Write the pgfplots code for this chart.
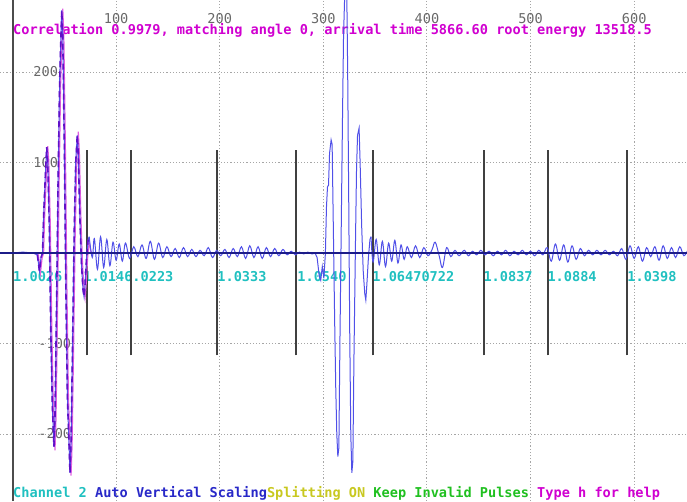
\documentclass[border=0pt]{standalone}
\usepackage{pgfplots}
\pgfplotsset{compat=1.18}
\usepackage{fontspec}
\newfontfamily\scr{DejaVu Sans Mono}
\definecolor{magT}{HTML}{D000D0}
\definecolor{cyanT}{HTML}{20C0C0}
\definecolor{blueT}{HTML}{2828C8}
\definecolor{yelT}{HTML}{C8C820}
\definecolor{grnT}{HTML}{20C020}
\definecolor{trBlue}{HTML}{5050E8}
\definecolor{trPurp}{HTML}{6010C8}
\definecolor{trMag}{HTML}{E060E0}
\definecolor{zeroC}{HTML}{1C1C88}
\definecolor{markC}{HTML}{404040}
\definecolor{tickC}{HTML}{686868}
\newcommand{\fs}{\fontsize{6.8}{8}\selectfont}
\begin{document}
\begin{tikzpicture}
\begin{axis}[
  width=343.5pt, height=250.5pt, scale only axis,
  xmin=-12.07, xmax=651, ymin=-274, ymax=279.6,
  axis line style={draw=none},
  xtick={100,200,...,600}, ytick={-200,-100,100,200},
  xticklabels={}, yticklabels={},
  major tick length=0pt,
  grid=major,
  major grid style={dash pattern=on 0.6pt off 1pt, draw=black!35, line width=0.5pt},
  extra x ticks={0}, extra x tick labels={},
  extra x tick style={grid=major, major grid style={solid, draw=black!70, line width=1pt}},
  unbounded coords=jump,
  clip=true,
]
% tick labels
\begin{scope}[every node/.style={inner sep=0pt, font=\scr\fs, text=tickC}]
\node at (axis cs:100,259.6) {100};
\node at (axis cs:200,259.6) {200};
\node at (axis cs:300,259.6) {300};
\node at (axis cs:400,259.6) {400};
\node at (axis cs:500,259.6) {500};
\node at (axis cs:600,259.6) {600};
\node[anchor=west] at (axis cs:19.8,200) {200};
\node[anchor=west] at (axis cs:19.8,100) {100};
\node[anchor=west] at (axis cs:24.6,-100) {-100};
\node[anchor=west] at (axis cs:24.6,-200) {-200};
\end{scope}
% title
\node[anchor=west, inner sep=0pt, font=\scr\bfseries\fs, text=magT] at (axis cs:0.3,246.4)
  {Correlation 0.9979, matching angle 0, arrival time 5866.60 root energy 13518.5};
% cyan labels
\begin{scope}[every node/.style={anchor=west, inner sep=0pt, font=\scr\bfseries\fs, text=cyanT}]
\node at (axis cs:0.3,-26.5) {1.0026};
\node at (axis cs:68,-26.5) {1.0146.0223};
\node at (axis cs:197.4,-26.5) {1.0333};
\node at (axis cs:274.6,-26.5) {1.0540};
\node at (axis cs:347,-26.5) {1.06470722};
\node at (axis cs:454.2,-26.5) {1.0837};
\node at (axis cs:516,-26.5) {1.0884};
\node at (axis cs:593.1,-26.5) {1.0398};
\end{scope}
% status line
\node[anchor=west, inner sep=0pt, font=\scr\bfseries\fs] at (axis cs:0.3,-265.2)
  {{\color{cyanT}Channel 2 }{\color{blueT}Auto Vertical Scaling}{\color{yelT}Splitting ON }{\color{grnT}Keep Invalid Pulses }{\color{magT}Type h for help}};

% marker lines
\addplot[markC, line width=0.7pt] coordinates {
(71.9,-113) (71.9,114) (nan,nan)
(114.4,-113) (114.4,114) (nan,nan)
(197.4,-113) (197.4,114) (nan,nan)
(273.6,-113) (273.6,114) (nan,nan)
(348.0,-113) (348.0,114) (nan,nan)
(455.1,-113) (455.1,114) (nan,nan)
(516.9,-113) (516.9,114) (nan,nan)
(593.1,-113) (593.1,114)
};

% magenta template trace
\addplot[trMag, line width=0.6pt] coordinates {
(0,0) (20,0) (25,-2) (27,-22) (28.5,-6) (30,0) (31,40) (32.5,80) (34,118) (35,102) (36.5,30) (38,-90) (39.5,-170) (41,-218) (42,-182) (43.5,-60) (45,80) (46.5,190) (48.5,270) (49.5,242) (51,120) (52.5,-40) (54,-160) (56.5,-246) (57.5,-212) (59,-100) (60.5,20) (62,100) (63.5,134) (64.5,112) (66,40) (67.5,-10) (69,-42) (70,-50) (71,-36) (72.5,-5) (74,12) (76,0) (80,0)
};

% blue signal trace: first pulse
\addplot[trBlue, line width=0.5pt] coordinates {
(0,0) (10,1) (20,0) (24,-2) (26,-20) (27.5,-5) (29,0) (30,40) (31.5,80) (33,117) (34,100) (35.5,30) (37,-90) (38.5,-170) (40,-214) (41,-180) (42.5,-60) (44,80) (45.5,190) (47.5,268) (48.5,240) (50,120) (51.5,-40) (53,-160) (55.5,-243) (56.5,-210) (58,-100) (59.5,20) (61,100) (62.5,130) (63.5,110) (65,40) (66.5,-10) (68,-40) (69,-48) (70,-35) (71.5,-5) (73,15) (74,18)
};
% ripples after first pulse
\addplot[trBlue, line width=0.5pt, smooth, tension=0.6] coordinates {
(74,18) (77,-5) (79,16) (82,-18) (85,18) (88,-16) (91,15) (94,-14) (97,12) (100,-8) (103,10) (106,-9) (109,11)
(113,-6) (117,7) (121,-4) (125,9) (129,-6) (133,13) (137,-7) (141,11) (145,-5)
(149,7) (153,-4) (157,5) (161,-5) (165,6) (169,-4) (173,4) (177,-4) (181,3) (185,-3) (189,6) (193,-5) (197,3) (201,-3) (205,4)
(209,-5) (213,5) (217,-4) (221,7) (225,-6) (229,8) (233,-5) (237,7) (241,-6) (245,6) (249,-4) (253,5) (257,-3) (261,4) (265,-2)
(269,2) (273,-2) (277,1) (281,-1) (285,1) (289,-1) (292,0)
};
% second pulse
\addplot[trBlue, line width=0.5pt] coordinates {
(292,0) (294,-5) (296,-25) (297.5,-30) (299,-15) (300.5,-28) (302,0) (303,50) (304,73) (305,75) (306,110) (307.5,125) (308.5,120) (309.5,40) (311,-80) (312,-150) (313,-200) (314,-225) (315,-215) (316,-100) (317.5,50) (318.5,150) (319.5,240) (321,300) (322.5,300) (323.5,200) (324.5,60) (325.5,-90) (326.5,-200) (327.5,-243) (328.5,-230) (329.5,-120) (331,10) (332,90) (333,130) (334.5,138) (335.5,100) (337,30) (338.5,-20) (340,-45) (341,-52) (342,-35) (343.5,-5) (345,15) (346,18)
};
% ripples after second pulse
\addplot[trBlue, line width=0.5pt, smooth, tension=0.6] coordinates {
(346,18) (348,-10) (351,15) (354,-13) (357,13) (360,-15) (363,11) (366,-9) (369,14) (372,-11) (375,9) (378,-7) (381,7)
(385,-5) (389,8) (393,-5) (397,6) (401,-3) (405,4) (408,12) (412,-4) (415,-16) (419,6) (423,-4) (427,3) (431,-3)
(436,3) (440,-3) (444,2) (448,-2) (452,3) (456,-2) (460,2) (464,-3) (468,2) (472,-2) (476,3) (480,-3) (484,2) (488,-2) (492,3) (496,-2) (500,2) (504,-3) (508,3) (512,-2)
(516,6) (520,-9) (524,10) (528,-8) (532,9) (536,-10) (540,8) (544,-7) (548,5) (552,-3)
(556,3) (560,-2) (564,3) (568,-2) (572,3) (576,-2) (580,2) (584,-3)
(588,5) (592,-7) (596,8) (600,-6) (604,7) (608,-9) (612,6) (616,-4) (620,7) (624,-8) (628,8) (632,-6) (636,6) (640,-5) (644,7) (648,-3) (652,4)
};

% purple dashed overlay on first pulse
\addplot[trPurp, line width=0.8pt, dash pattern=on 3pt off 2pt] coordinates {
(24,-2) (26,-20) (27.5,-5) (29,0) (30,40) (31.5,80) (33,117) (34,100) (35.5,30) (37,-90) (38.5,-170) (40,-214) (41,-180) (42.5,-60) (44,80) (45.5,190) (47.5,268) (48.5,240) (50,120) (51.5,-40) (53,-160) (55.5,-243) (56.5,-210) (58,-100) (59.5,20) (61,100) (62.5,130) (63.5,110) (65,40) (66.5,-10) (68,-40) (69,-48) (70,-35) (71.5,-5) (73,15)
};

% zero line
\addplot[zeroC, line width=1pt] coordinates {(-12.07,0) (651,0)};
\end{axis}
\pgfresetboundingbox
\useasboundingbox (current axis.south west) rectangle (current axis.north east);
\end{tikzpicture}
\end{document}
